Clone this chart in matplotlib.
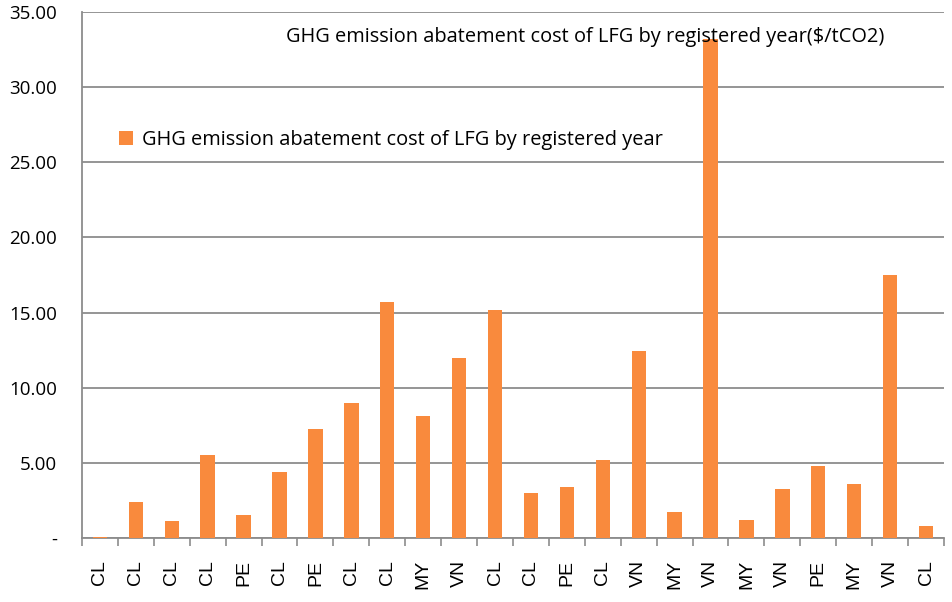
import numpy as np
import matplotlib.pyplot as plt
from matplotlib.ticker import FuncFormatter

### data

countries = ['CL', 'CL', 'CL', 'CL', 'PE', 'CL', 'PE', 'CL', 'CL', 'MY', 'VN', 'CL',
             'CL', 'PE', 'CL', 'VN', 'MY', 'VN', 'MY', 'VN', 'PE', 'MY', 'VN', 'CL']
cost = [0.10, 2.42, 1.11, 5.55, 1.53, 4.42, 7.25, 8.96, 15.68, 8.10, 11.98, 15.15,
        2.99, 3.42, 5.19, 12.47, 1.76, 33.23, 1.18, 3.24, 4.79, 3.57, 17.53, 0.78]
series_name = 'GHG emission abatement cost of LFG by registered year'
title = 'GHG emission abatement cost of LFG by registered year($/tCO2)'

bar_color = '#F98A3D'
grid_color = '#8C8C8C'

### plot

fig = plt.figure(figsize=(9.52, 6.02), dpi=100)
ax = fig.add_axes([0.0861, 0.1063, 0.9055, 0.8737])

x = np.arange(len(cost))
ax.bar(x, cost, width=0.4, color=bar_color, label=series_name, zorder=3)

ax.set_xlim(-0.5, len(cost) - 0.5)
ax.set_ylim(0, 35)
ax.set_yticks(np.arange(0, 36, 5))
ax.yaxis.set_major_formatter(FuncFormatter(lambda v, p: '-' if v == 0 else '%.2f' % v))
ax.tick_params(axis='y', length=0, pad=18, labelsize=13.5)
for lab in ax.get_yticklabels():
    lab.set_fontfamily('Open Sans')
# short stub at zero, where the x axis runs past the y axis
ax.set_yticks([0], minor=True)
ax.tick_params(axis='y', which='minor', length=6.5, width=1.3, color=grid_color)

ax.set_xticks(x)
ax.set_xticklabels(countries, rotation=90, fontsize=14, fontfamily='Liberation Sans')
ax.set_xticks(np.arange(-0.5, len(cost)), minor=True)
ax.tick_params(axis='x', which='major', length=0, pad=16)
ax.tick_params(axis='x', which='minor', length=5.5, width=1.2, color=grid_color)

ax.grid(axis='y', color=grid_color, linewidth=1.3, zorder=0)
for side in ['top', 'right']:
    ax.spines[side].set_visible(False)
for side in ['left', 'bottom']:
    ax.spines[side].set_color(grid_color)
    ax.spines[side].set_linewidth(1.3)
    ax.spines[side].set_zorder(2)

fig.text(286 / 952, 1 - 37 / 602, title, ha='left', va='center',
         fontsize=14.4, fontfamily='Open Sans')
leg = ax.legend(loc='center left', bbox_to_anchor=(101 / 952, 1 - 140 / 602),
                bbox_transform=fig.transFigure, frameon=False,
                handlelength=0.7, handleheight=0.7, handletextpad=0.45,
                prop={'family': 'Open Sans', 'size': 14.4})

fig.savefig('out.png', dpi=100)
